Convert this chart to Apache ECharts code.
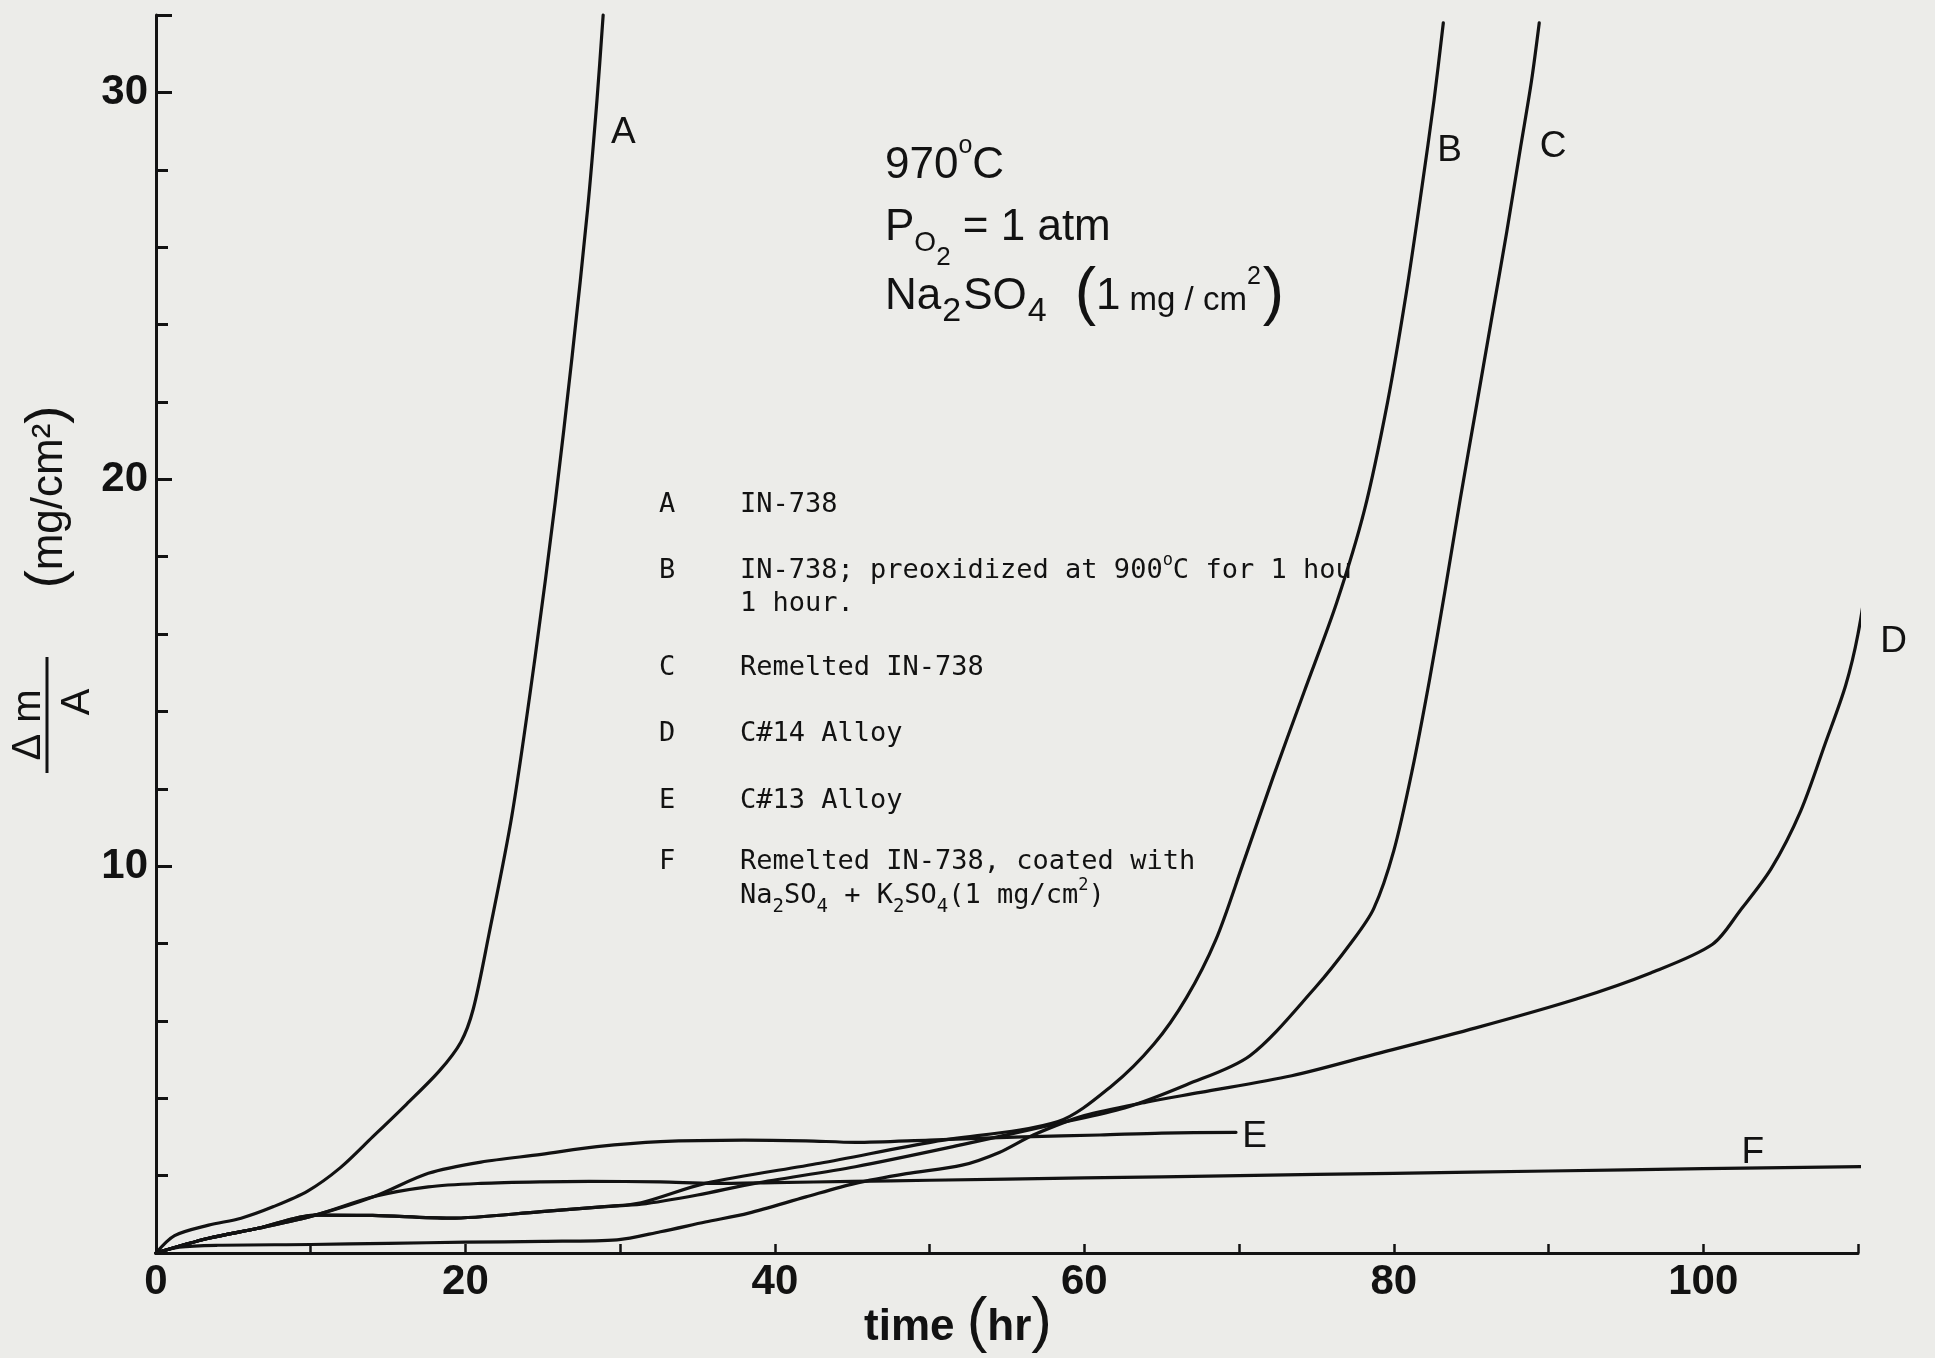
<!DOCTYPE html>
<html>
<head>
<meta charset="utf-8">
<script src="https://cdn.jsdelivr.net/npm/echarts@6/dist/echarts.min.js"></script>
<style>
  html, body { margin: 0; padding: 0; background: #ecece9; }
  #chart { width: 1935px; height: 1358px; }
</style>
</head>
<body>
<div id="chart"></div>
<script>
// Weight gain per unit area (mg/cm^2) versus time (hr), hot corrosion at 970 C
const curveA = [[0,0],[1.2,0.45],[3.4,0.72],[5.5,0.9],[7.6,1.2],[9.8,1.6],[11.9,2.2],[14,3.0],[16.2,3.85],[18.3,4.7],[19.7,5.45],[20.5,6.3],[21.5,8.2],[23,11.3],[24.5,15.4],[25.8,19.4],[26.9,23.2],[27.9,27],[28.5,29.8],[28.9,32]];
const curveB = [[0,0],[3.4,0.38],[6.6,0.64],[10.3,0.98],[14,0.97],[19,0.9],[24.9,1.07],[29,1.2],[31.35,1.3],[35.5,1.8],[42.9,2.32],[50.3,2.88],[58.3,3.4],[61.8,4.33],[64.5,5.4],[66.6,6.6],[68.5,8.1],[70.2,10],[72.2,12.3],[74.2,14.5],[76.3,16.8],[78.1,19.2],[79.6,22],[80.8,24.8],[81.8,27.5],[82.6,29.8],[83.2,31.8]];
const curveC = [[0,0],[3.4,0.38],[6.6,0.64],[10.3,0.98],[14,0.97],[19,0.9],[24.9,1.07],[29,1.2],[31.35,1.26],[35,1.5],[38.7,1.8],[45.2,2.23],[52.1,2.8],[58.3,3.35],[62.6,3.75],[66.6,4.35],[70.7,5.1],[74.9,6.85],[77.3,8.05],[78.7,8.9],[80,10.4],[81.2,12.5],[82.3,14.8],[83.3,17.1],[84.3,19.5],[85.3,21.8],[86.3,24.1],[87.3,26.4],[88.2,28.6],[88.9,30.3],[89.4,31.8]];
const curveD = [[0,0],[1.5,0.15],[4,0.2],[10,0.22],[15,0.25],[20,0.28],[25,0.3],[29.8,0.34],[32.6,0.55],[35.5,0.8],[38.3,1.03],[42,1.45],[45.2,1.8],[48.5,2.05],[52.1,2.27],[54.5,2.6],[56.7,3.05],[60,3.55],[64,3.9],[67.5,4.15],[73.4,4.58],[78.8,5.14],[85.3,5.82],[91.75,6.56],[96.6,7.24],[100.6,7.98],[102.4,8.86],[104.4,9.94],[106.3,11.43],[107.9,13.19],[109.2,14.67],[110,16],[110.5,17.4],[110.6,19.7]];
const curveE = [[0,0],[3.4,0.38],[6.6,0.64],[10.3,0.98],[14.1,1.46],[17.6,2.06],[21,2.35],[24.9,2.55],[28.5,2.75],[32.6,2.88],[38,2.92],[42,2.9],[45.2,2.86],[50,2.92],[56,3.0],[61,3.05],[65,3.1],[69.8,3.12]];
const curveF = [[0,0],[3.4,0.38],[6.6,0.64],[10.3,0.98],[14.1,1.46],[17.6,1.71],[21,1.8],[24.9,1.84],[28,1.85],[32.6,1.84],[36,1.8],[40,1.82],[45,1.85],[50,1.88],[60,1.94],[70,2.0],[80,2.06],[90,2.12],[100,2.18],[115,2.26]];

const curveNames = ['A', 'B', 'C', 'D', 'E', 'F'];
const curveData = [curveA, curveB, curveC, curveD, curveE, curveF];

// Tick labels shown on each axis
const xTickLabels = [0, 20, 40, 60, 80, 100];
const yTickLabels = [10, 20, 30];

// Key to the curves
const keyLetters = ['A', 'B', '', 'C', 'D', 'E', 'F', ''];
const keyTexts = [
  '{m|IN-738}',
  '{m|IN-738; preoxidized at 900}{sup|o}{m|C for 1 hou}',
  '{m|1 hour.}',
  '{m|Remelted IN-738}',
  '{m|C#14 Alloy}',
  '{m|C#13 Alloy}',
  '{m|Remelted IN-738, coated with}',
  '{m|Na}{sub|2}{m|SO}{sub|4}{m| + K}{sub|2}{m|SO}{sub|4}{m|(1 mg/cm}{sup|2}{m|)}'
];

// Test conditions
const conditionLines = [
  '{m|970}{sup|o}{m|C}',
  '{m|P}{s1|O}{s2|2}{m| = 1 atm}',
  '{m|Na}{sub|2}{m|SO}{sub|4}{po|(}{m|1}{u| mg / cm}{sup|2}{pc|)}'
];

// Where each curve letter sits, in data units
const letterAnchors = {A: [30.2, 28.95], B: [83.6, 28.5], C: [90.3, 28.6], D: [112.3, 15.8], E: [71.0, 3.0], F: [103.2, 2.6]};

const INK = '#121212';
const SANS = 'Liberation Sans';
const MONO = 'DejaVu Sans Mono';

const chart = echarts.init(document.getElementById('chart'), null, {renderer: 'canvas'});

chart.setOption({
  backgroundColor: '#ecece9',
  animation: false,
  grid: {left: 156, right: 77, top: 15, bottom: 105},
  xAxis: {
    type: 'value', min: 0, max: 110, interval: 10,
    axisLine: {lineStyle: {color: INK, width: 3}},
    axisTick: {inside: true, length: 9, lineStyle: {color: INK, width: 2.5}},
    axisLabel: {
      margin: 8, color: INK, fontFamily: SANS, fontWeight: 'bold', fontSize: 42,
      formatter: v => xTickLabels.includes(v) ? String(v) : ''
    },
    splitLine: {show: false}
  },
  yAxis: {
    type: 'value', min: 0, max: 32, interval: 10,
    axisLine: {lineStyle: {color: INK, width: 3}},
    axisTick: {inside: true, length: 16, lineStyle: {color: INK, width: 3}},
    minorTick: {show: true, splitNumber: 5, length: 12, lineStyle: {color: INK, width: 3}},
    axisLabel: {
      margin: 8, color: INK, fontFamily: SANS, fontWeight: 'bold', fontSize: 42,
      formatter: v => yTickLabels.includes(v) ? String(v) : ''
    },
    splitLine: {show: false}
  },
  series: curveData.map((d, i) => ({
    name: curveNames[i],
    type: 'line',
    data: d,
    clip: false,
    smooth: 0.3,
    showSymbol: false,
    silent: true,
    lineStyle: {color: INK, width: 3.2, cap: 'round', join: 'round'}
  }))
});

// Rich text helper: tokens are top-aligned, offsets given through padding
function richSet(family, pads) {
  const out = {};
  Object.keys(pads).forEach(k => {
    const p = pads[k];
    out[k] = {fontFamily: family, fontSize: p.size, fontWeight: p.weight || 'normal',
              verticalAlign: 'top', padding: [p.top, p.right || 0, 0, p.left || 0]};
  });
  return out;
}

const keyRich = richSet(MONO, {
  m: {size: 27, top: 6},
  sup: {size: 17, top: 1},
  sub: {size: 19, top: 21}
});

const condRich = richSet(SANS, {
  m: {size: 44, top: 12},
  sup: {size: 25, top: 2},
  s1: {size: 28, top: 35},
  s2: {size: 26, top: 51},
  sub: {size: 34, top: 32, left: 1, right: 2},
  po: {size: 64, top: 0, left: 26},
  pc: {size: 64, top: 0, left: 2},
  u: {size: 33, top: 21}
});

const nameRich = richSet(SANS, {
  b: {size: 44, top: 14, weight: 'bold'},
  p: {size: 62, top: 0}
});

const yTitleRich = richSet(SANS, {
  p: {size: 54, top: 0},
  t: {size: 44, top: 7}
});

const graphics = [];

// Key block
const keyRows = [505, 571, 604, 668, 734, 801, 862, 896];
keyRows.forEach((cy, i) => {
  if (keyLetters[i]) {
    graphics.push({type: 'text', x: 659, y: cy - 19.5, silent: true,
      style: {text: '{m|' + keyLetters[i] + '}', rich: keyRich, fill: INK, align: 'left', verticalAlign: 'top'}});
  }
  graphics.push({type: 'text', x: 740, y: cy - 19.5, silent: true,
    style: {text: keyTexts[i], rich: keyRich, fill: INK, align: 'left', verticalAlign: 'top'}});
});

// Conditions block
const condTops = [166 - 34, 228 - 34, 297 - 34];
conditionLines.forEach((t, i) => {
  graphics.push({type: 'text', x: 885, y: condTops[i], silent: true,
    style: {text: t, rich: condRich, fill: INK, align: 'left', verticalAlign: 'top'}});
});

// Axis titles
graphics.push({type: 'text', x: 864, y: 1292, silent: true,
  style: {text: '{b|time }{p|(}{b|hr}{p|)}', rich: nameRich, fill: INK, align: 'left', verticalAlign: 'top'}});

graphics.push({type: 'text', x: 48, y: 497, rotation: Math.PI / 2, silent: true,
  style: {text: '{p|(}{t|mg/cm²}{p|)}', rich: yTitleRich, fill: INK, align: 'center', verticalAlign: 'middle'}});
const yTitleFont = {fontFamily: SANS, fontSize: 40};
graphics.push({type: 'text', x: 29, y: 725, rotation: Math.PI / 2, silent: true,
  style: Object.assign({text: 'Δ m', fill: INK, align: 'center', verticalAlign: 'middle'}, yTitleFont)});
graphics.push({type: 'line', silent: true,
  shape: {x1: 47, y1: 657, x2: 47, y2: 773}, style: {stroke: INK, lineWidth: 3}});
graphics.push({type: 'text', x: 78, y: 702, rotation: Math.PI / 2, silent: true,
  style: Object.assign({text: 'A', fill: INK, align: 'center', verticalAlign: 'middle'}, yTitleFont)});

// Curve letters, placed through the chart's own scales
curveNames.forEach(n => {
  const p = chart.convertToPixel({gridIndex: 0}, letterAnchors[n]);
  graphics.push({type: 'text', x: p[0], y: p[1], silent: true,
    style: {text: n, fill: INK, fontFamily: SANS, fontSize: 37, align: 'center', verticalAlign: 'middle'}});
});

chart.setOption({graphic: {elements: graphics}});
</script>
</body>
</html>
